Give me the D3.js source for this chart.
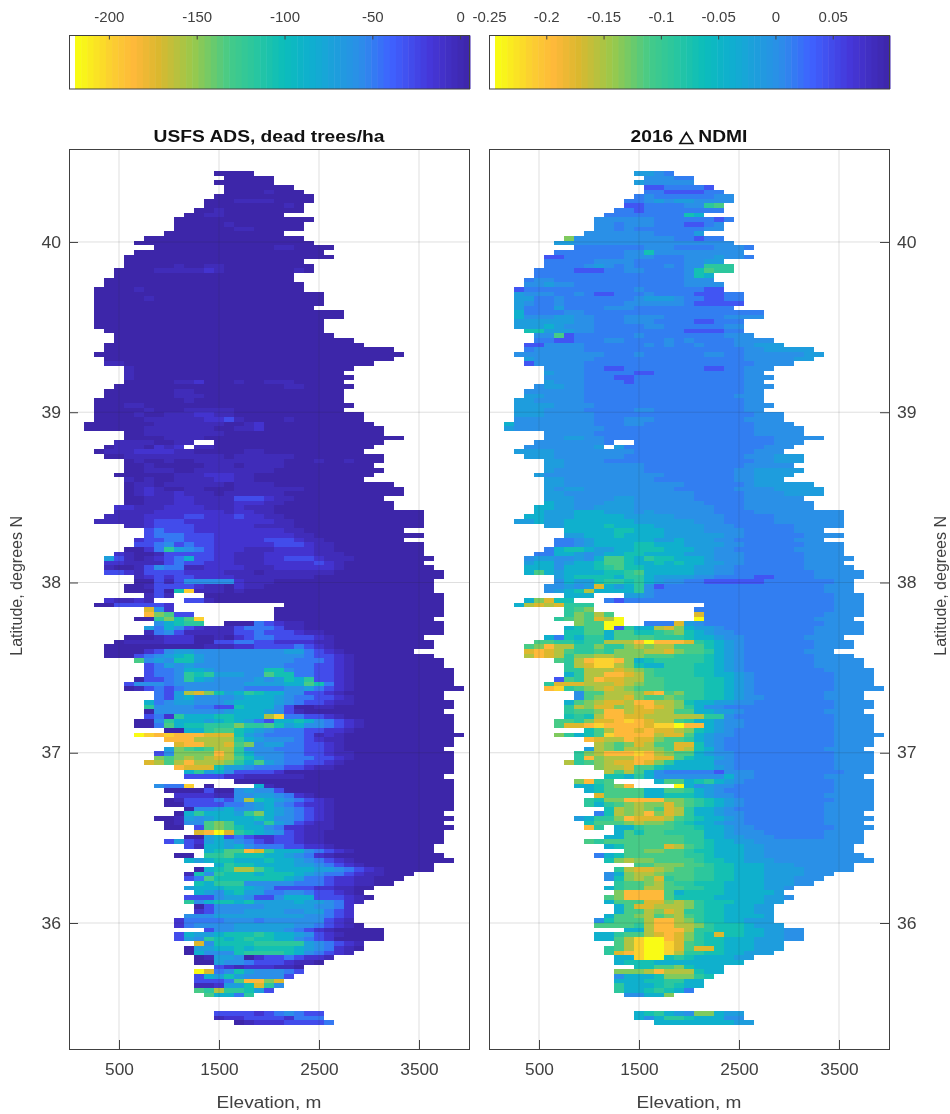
<!DOCTYPE html>
<html>
<head>
<meta charset="utf-8">
<title>USFS ADS and NDMI by elevation and latitude</title>
<script src="https://cdnjs.cloudflare.com/ajax/libs/d3/7.8.5/d3.min.js"></script>
<style>
  html, body { margin: 0; background: #fff; }
  svg { display: block; filter: blur(0.35px); }
  text { font-family: "Liberation Sans", Arial, sans-serif; fill: #404040; }
</style>
</head>
<body>
<svg id="chart"></svg>
<script>
// each row is one latitude band, north to south, one character per 100 m elevation cell
// "." = no data, other characters index into adsLevels / ndmiLevels
var levelKeys = "0123456789abcdefg";
var adsLevels = [5, -2.5, -12.6, -28, -48.6, -57.5, -71, -86.7, -104.7, -118, -132, -145, -159, -172, -185, -199, -217];
var ndmiLevels = [0.1, 0.083, 0.066, 0.0414, 0.0137, 0.0016, -0.0158, -0.0418, -0.0695, -0.09, -0.111, -0.132, -0.153, -0.173, -0.194, -0.215, -0.243];

var adsRows = [
".......... .....0000.",
".......... ......0000 0",
".......... .....00000 0",
".......... ......0000 000",
".......... ......0000 1000",
".......... .....00000 00000",
".......... ....000111 10000",
".......... ....000000 0010",
".......... ...0010000 0000",
".......... ..00110000 00",
".......... .000000000 00000",
".......... .000001000 0000",
".......... .000000110 0000",
".......... 0000000000 00",
"........00 0000000000 0000",
".......000 0000000000 00000",
".........0 0000000000 0110000",
".......000 0000000000 000000",
"......0000 0000000000 0000000",
"......0000 0000000000 0000",
"......0000 0100110000 00000",
".....00001 1111210000 00010",
".....00000 0000000000 000",
"....000000 0000000000 000",
"....000000 0000000000 0000",
"...0000100 0000000000 0000",
"...0000000 0000000000 000000",
"...0000010 0000000000 000000",
"...0000000 0000000000 000000",
"...0000000 0000000000 00000",
"...0000000 0000000000 00000000",
"...0000000 0000000000 00000000",
"...0000000 0000000000 000000",
"...0000000 0000000000 000000",
"....000000 0000000000 000000",
".....00000 0000000000 0000000",
".....00000 0000000000 000000000",
"....000000 0000000000 0000000000",
"....000000 0000000000 0000000000 000",
"...0000000 0000000000 0000000000 0000",
"....000000 0000000000 0000000000 000",
"....110000 0000000000 0000000000 0",
"......1000 0000000000 000000000",
"......1000 0000000000 00000000",
"......1000 0000000000 000000000",
"......0000 0112000100 11100000",
".....00000 0000000000 001100000",
"....000000 0110000000 00000000",
"....000000 0111000000 00000000",
"...0000000 0010000000 00000000",
"...0001100 0000000000 000000000",
"...0000010 0011111000 00000000",
"...0000100 1112211000 0000000000",
"...0000011 1111223100 0010000000",
"..00000001 1111110012 0000000000 0",
"..00000011 1111100112 0000000000 00",
"......0011 1111110000 0000000000 00",
"......0000 1111000000 0000000000 0000",
".....11110 011..00000 0000000000 00",
"....011102 12.1100000 0000000000 0",
"...0111222 2110000011 0000000000",
"....001111 1111110111 1110000000 00",
"......0100 1001111111 1100010010 00",
"......0010 0000111011 1100000000 0",
"......0011 1001111111 1000000000 00",
".....00000 0111222110 0000000000 0",
"......1010 0111122110 0000000000",
"......0110 1111110111 1000000000 000",
"......0121 0011000111 1111000000 0000",
"......0121 1211101111 1100000000 0000",
"......0011 1221111333 2110000000 00",
"......0011 1221111222 1100000000 000",
".....22111 2222111211 1000000000 000",
".....11112 2222221221 1000000000 000000",
"....111122 2233222322 1100000000 000000",
"...1111123 3322222222 2110000000 000000",
"......1123 3332222221 1110000000 000000",
"........34 3332222222 2211000000 0000",
"........34 4433322222 2221100000 000000",
".......233 4433322222 3332110000 0000",
".......334 5343322222 2333211000 000000",
"......0024 9654322211 1222211000 000000",
".....21001 3333322111 2222211100 000000",
"....631012 3473322111 2233321110 0000000",
"....221111 3433222111 2222232100 000000",
"....100135 4411222211 1222222100 0000000",
"....332133 3322221110 1111111000 00000000",
".......123 2332222111 1111100000 00000000",
".......003 1355555211 1000000000 0000000",
"......0013 3332110211 0000000000 0000000",
"......0003 08f1110100 0000000000 0000000",
"........13 1...000000 0000000000 00000000",
"....21121. ..33100000 0000000000 00000000",
"...0033333 2......... ..00000000 00000000",
"........d5 2......... .000000000 00000000",
"........eb a33....... .000000000 00000000",
".......009 b8af...... .000000000 0000000",
".........5 7899..0004 3211000000 00000000",
"........64 7532111344 4311000000 00000000",
"........14 5311111334 3332110000 00000000",
"......0001 2220010234 4333321000 000000",
".....01111 2220033443 3222211000 0000000",
"....000000 0000111223 3334321000 0000000",
"....000023 5665555555 5566432100 00000",
"....000345 6786555555 5555433210 0000000",
".......a56 5886555555 5554443210 00000000",
"........34 6565555555 5544433210 00000000",
"........34 4577655555 8854433210 000000000",
"........34 4598966655 a884433210 000000000",
".......033 4597655556 5687933210 000000000",
"......3555 4555555566 6677a84210 000000000",
"......0134 3455555544 4455643210 0000000000",
".........4 36cdb86798 7755332100 00000000",
".........4 3675555677 7654433210 00000000",
"........74 5665556777 7654332110 000000000",
"........95 5554433877 7530011000 000000000",
"........05 5555556777 6531000000 00000000",
"........34 2977788777 cf44332100 000000000",
".......005 9777678764 3778754321 000000000",
".......004 a788999b99 a867554321 000000000",
".......... 00779aa876 5444332210 000000000",
".......gfe feeeddd865 4444312100 0000000000",
".......... eeecccc976 5554321100 000000000",
".......... .deeccdab5 6644332100 000000000",
".......... 6ba9acc955 5444332100 00000000",
".........3 5bbbbec975 5544332110 000000000",
".........b abcbcdca86 5544433210 000000000",
"........dc acecccb97a 6544332100 000000000",
".......... .eddd86654 4433211000 000000000",
".......... ..79675333 3200000000 000000000",
".......... ..33332211 1111000000 00000000",
".......... .......000 0000000000 000000000",
".........5 44f.0....7 1000000000 000000000",
".......... 0000300565 5300000000 000000000",
".......... .222211556 6542100000 000000000",
".......... 01333435c8 7654321000 000000000",
".......... 0033334456 7543221000 000000000",
".......... ..05567556 7654321000 000000000",
".......... .07977769b 7654321000 00000000",
".........0 0165677778 7554321000 000000000",
".......... 0155aba776 9653211000 00000000",
".......... 00.3aba877 5422111000 000000000",
".......... ...degd987 6532110000 00000000",
".......... ..00673432 2332110000 00000000",
".......... 3632676543 2332110000 00000000",
".......... ..31776754 4433221000 0000000",
".......... ....78aaed 9777543210 0000000",
".......... .00.99a888 7765421000 00000000",
".......... ..76788777 8776543210 000000000",
".......... .....79887 7776654321 0000000",
".......... ...0789cca 8777766543 2100000",
".......... ..18598887 8887654432 11000",
".......... ..34a88888 8876443221 1000",
".......... ...8799955 5554443221 100",
".......... ..67778876 5333322110 0",
".......... ...7657866 4455433210",
".......... ..33356653 3577733321 0",
".......... ..95788786 6667665421",
".......... ...0355555 666665542",
".......... ...2355566 665566432",
".......... ..55566666 666655432",
".......... .244445554 555555321",
".......... .245555666 6665543210",
".......... ....355666 6654321000 00",
".......... .376678889 8776532100 00",
".......... .365987898 8775432000 00",
".......... ...d588889 9999654321",
".......... ..06677878 8887654210",
".......... ..07555899 998754321",
".......... ...0166502 3343221",
".......... ...0065543 332110",
".......... .....32122 2110",
".......... ...gd45865 5543",
".......... ...3768655 553",
".......... ...3334aee bd",
".......... ...112668d 95",
".......... ...a9c9986 3",
".......... ....a7749",
"",
"",
"",
".......... .....33332 345433",
".......... .....12233 332444",
".......... .......012 2233334"
];

var ndmiRows = [
".......... .....6654.",
".......... ......5554 4",
".......... .....65555 5",
".......... ......3344 443",
".......... ......4433 3344",
".......... .....45444 44455",
".......... ....445656 65555",
".......... ....334444 559a",
".......... ...4434444 4444",
".......... ..44444444 87",
".......... .555555444 44434",
".......... .554555444 3345",
".......... .554544444 4455",
".......... 5555555444 46",
"........b5 5555555554 4344",
".......665 5555555555 55555",
".........4 4444445554 4445554",
".......444 4444558555 555555",
"......3344 4444555444 5556554",
"......4444 4555544444 5566",
"......4444 5654544454 55999",
".....44443 3344554444 58a99",
".....44444 4444444444 587",
"....455444 4444444444 555",
"....556554 4444444444 5555",
"...3444444 4444454444 4433",
"...6555445 4334445444 433344",
"...6644544 4444456665 443344",
"...6544544 4444555555 433333",
"...6444644 4455544444 44444",
"...7444455 4444444444 44444444",
"...7555665 5444555544 44445555",
"...6666665 5444555444 433444",
"...6667655 5444445544 444455",
"....886665 5444444444 333344",
".....55a34 4444454444 4444555",
".....44334 4455444454 544445555",
"....335555 4444445454 4544455666",
"....455555 4444444444 4444445566 666",
"...5555555 5544454444 4455445555 5566",
"....655555 5444444444 4444445555 566",
"....355555 4444444444 4444444555 5",
"......5555 4433444444 443344555",
"......6555 4444433444 44444455",
"......5555 4443344444 444444555",
"......6555 4444344444 44444455",
".....56655 4444444444 444444555",
"....555555 4444444444 44444455",
"....665555 4444444444 44444555",
"...6655555 4444444444 44444455",
"...6666555 5444444444 444444555",
"...6665555 4444455444 44444455",
"...6665555 5444444444 4444444555",
"...5555555 5444555444 4444445555",
"..75555555 5444554444 4444444555 5",
"..65555555 5544444444 4444444555 55",
"......5555 5444444444 4444444555 55",
"......5566 5544444444 4444444445 5555",
".....55555 554..44444 4444444445 55",
"....555555 56.6444444 4444444455 5",
"...6666555 5555544444 4444444555",
"....666555 5555444444 4444445556 66",
"......6655 5544444444 4444444556 66",
"......6655 5555554444 4444445555 5",
"......6555 5555554444 4444455666 66",
".....65555 5555555544 4444455666 6",
"......6655 5555555444 4444455666",
"......6655 5555555555 4444445666 666",
"......6566 5555555554 4444455556 6666",
"......6655 5555555555 5444445555 6666",
"......6665 5556655555 5444445555 55",
"......7665 5566655555 5544445555 555",
".....77665 5666655555 5554445555 555",
".....76667 7766656555 5554444555 555555",
"....776667 7777666665 5555444445 555555",
"...6676677 7777766666 6555444445 555555",
"......6677 7787777666 6655544444 455555",
"........77 7778877766 6655554444 4555",
"........66 7778777766 6666554444 445555",
".......445 6777777667 6665544444 4555",
".......445 6777788777 6666554444 445555",
"......4788 7667788877 7665544444 455555",
".....44776 5677887777 6665554444 445555",
"....566556 57aa879887 7765554444 4455555",
"....677567 78aa877878 7766554444 445555",
"....777577 789a887777 7665544444 4455555",
"....7a7677 77889a7777 7665544444 44455555",
".......678 8887997666 6554444334 44455555",
".......576 6899897655 4433333344 4444455",
"......5565 6d76795344 4444444444 4444555",
"......5678 c777795444 4444444444 4444555",
"........77 7...665444 4444444444 44444555",
"....7bd88. ..43444444 4444444444 44444555",
"...7cdcd99 9......... ..44444444 44444555",
"........9a b......... .444444444 44444555",
"........9b aca....... .d44444444 44445555",
".......9ab adcg...... .g44444444 4445555",
".........b aagg..444d 6544444444 44445555",
"........78 aag3977cdb 7665444444 44455555",
"........88 aa7aa889ab 8765544444 44455555",
"......7487 997aaaa999 8776554444 445555",
".....aa998 99cccegeee d987654444 4445555",
"....abecc9 9b99bcbcca aa87654444 4445555",
"....dedca9 9a9bbbccdb aa97654444 44555",
"....cedc9b bccbbbaaa9 9987654444 4445555",
".......a9c effeb78999 9987654444 44455555",
"........9c dffcb87799 9887654444 44455555",
"........99 cccdcba999 9887654444 444455555",
"........79 cceedca999 9887765444 444445555",
".......3a9 ceddccaa99 9988765444 444445555",
"......9ddd cccdcbaa99 9988765444 444445555",
"......ef9a bcdcbaaa99 9988765444 4444455555",
".........5 aacccbdeab 9988765444 44445555",
".........5 abccdbaaba 9988765544 44445555",
"........7a bcddceeccb 8776655444 444445555",
"........9c bddbcdedcb 9755444444 444445555",
"........9a abeecddcca a776654444 44445555",
"........89 8ceeddcccc cc99544444 444445555",
".......aa9 bddefedcca 9776554444 444445555",
".......add efeeeedffg ee76554444 444445555",
".......... 8aceededdc b876544444 444445555",
".......b97 8afeeeecdd a765544444 4444455555",
".......... edcceddbaa 9765444444 444445555",
".......... .cbabdcaad d865444444 444445555",
".......... 6cbacccbad c875444444 44445555",
".........9 bceeefecba a765544444 444445555",
".........9 ebccceedda 8776544444 444445555",
"........c9 abcddedb97 7775544444 444445555",
".......... .bccdaa877 7776544444 444445555",
".......... ..caca7544 4443555444 444444555",
".......... ..88797555 5555755444 44445555",
".........b e9a....7aa 7897654444 444445555",
".........7 78abe....g 7565544444 444445555",
".......... 78aaaa77aa 9765444444 444445555",
".......... .daaaa7788 8765544444 444455555",
".......... 98bbeeeebb a987654444 444445555",
".......... 979abcbbdb a987654444 444455555",
".......... ..8cbcbadc 9776544444 444455555",
".......... .48cbcebdc 9776554444 44445555",
".........6 799bedddca 9877654444 444455555",
".......... 8aaabcbba9 8776554444 44445555",
".......... e9.779aaa9 9877655444 444445555",
".......... ...7a8aa99 9977655544 44445555",
".......... ..77aaaaaa 9977665554 44445555",
".......... a9aaaaaaaa 9987766555 55555555",
".......... ..78aaaadc a987776655 5555555",
".......... ....aabbaa 9887776655 5555555",
".......... .478aaaaaa 9987776655 55555555",
".......... ..8bcbbaaa a988776665 555555555",
".......... .....aabbb aa98877766 6555555",
".......... ...9cddcba a998877766 6655555",
".......... ..57bccbaa a998877766 66555",
".......... ..58bcbd9a a998877766 6555",
".......... ...9aabca9 9888777766 655",
".......... ..79aaccaa 9988777766 5",
".......... ...beeeea7 8888777776",
".......... ..abeeeea8 8887777766 5",
".......... ..7aaaddbc b988877766",
".......... ...7addccc b98877766",
".......... ...7aacbdc 998877766",
".......... ..7aabcabc a98877776",
".......... .58aaaceec b98877666",
".......... .aaaa9ceec cb98887666",
".......... ....77ceee c998887766 55",
".......... .779aacded b98d887766 55",
".......... .77acfgged b988777666 55",
".......... ...acfggfd a988777666",
".......... ..9acfggfd add8777666",
".......... ..9defggfc 998877666",
".......... ...77fgg89 8777766",
".......... ...7888777 777777",
".......... .....88aab 8777",
".......... ...bbbcecc c877",
".......... ...57778bb b98",
".......... ...7778899 77",
".......... ...9777898 77",
".......... ...9778987 4",
".......... ....5577b",
"",
"",
"",
".......... .....78976 5bb766",
".......... .....75799 877755",
".......... .......777 7777766"
];

var elevTicks = [500, 1500, 2500, 3500];
var latTicks = [36, 37, 38, 39, 40];
var adsBarTicks = [-200, -150, -100, -50, 0];
var ndmiBarTicks = [-0.25, -0.2, -0.15, -0.1, -0.05, 0, 0.05];

// colour map, 0 = dark end, 1 = yellow end
var cmapStops = [0, 0.1, 0.2, 0.28, 0.4, 0.47, 0.55, 0.61, 0.7, 0.79, 0.85, 0.91, 0.99, 1];
var cmapColors = ["#3d26a8", "#4536d8", "#3f62ff", "#2b8fe8", "#10aed0", "#0bbdbb", "#2cc79d", "#45cb88", "#98c94c", "#dcb82e", "#feb83a", "#fbd030", "#f9fb15", "#f9fb15"];
var cmap = d3.scaleLinear().domain(cmapStops).range(cmapColors);

var adsDomain = [-222.7, 5.6];
var ndmiDomain = [-0.25, 0.1];
var elevDomain = [0, 4000];
var latDomain = [35.26, 40.546];
var latTop = 40.417, latBottom = 35.401;
var cellElev = 100;

var width = 950, height = 1114;
var plotTop = 149, plotBottom = 1049, barTop = 35.5, barBottom = 89;
var panels = [
  { left: 69, rows: adsRows, levels: adsLevels, domain: adsDomain, ticks: adsBarTicks, title: "USFS ADS, dead trees/ha", side: "left" },
  { left: 489, rows: ndmiRows, levels: ndmiLevels, domain: ndmiDomain, ticks: ndmiBarTicks, title: "2016 \u25B3 NDMI", side: "right" }
];

var svg = d3.select("#chart").attr("width", width).attr("height", height);
var y = d3.scaleLinear().domain(latDomain).range([plotBottom, plotTop]);

// the reference is stretched a bit sideways, so horizontal text gets widened to match
function widen(sel, f) {
  sel.each(function () {
    var w = this.getComputedTextLength();
    d3.select(this).attr("textLength", w * f).attr("lengthAdjust", "spacingAndGlyphs");
  });
}

panels.forEach(function (p) {
  var x = d3.scaleLinear().domain(elevDomain).range([p.left, p.left + 400]);
  var barX = d3.scaleLinear().domain(p.domain).range([p.left, p.left + 401]);
  // one step of the bar is the white under-range, the rest is the colour map
  var whiteEnd = p.domain[0] + (p.domain[1] - p.domain[0]) * 0.015;
  var toMap = d3.scaleLinear().domain([p.domain[1], whiteEnd]).range([0, 1]).clamp(true);

  var latStep = (latTop - latBottom) / p.rows.length;
  var cells = [];
  p.rows.forEach(function (row, r) {
    row.replace(/ /g, "").split("").forEach(function (ch, k) {
      if (ch !== ".") cells.push({ r: r, k: k, value: p.levels[levelKeys.indexOf(ch)] });
    });
  });

  // colour bar
  var bands = d3.range(64).map(function (i) { return whiteEnd + (p.domain[1] - whiteEnd) * i / 64; });
  var bandW = (p.domain[1] - whiteEnd) / 64;
  var bar = svg.append("g");
  bar.selectAll("rect").data(bands).enter().append("rect")
    .attr("x", function (d) { return barX(d); })
    .attr("y", barTop)
    .attr("width", function (d) { return barX(d + bandW) - barX(d) + 0.5; })
    .attr("height", barBottom - barTop)
    .attr("fill", function (d) { return cmap(toMap(d + bandW / 2)); });
  bar.append("rect")
    .attr("x", p.left + 0.5).attr("y", barTop).attr("width", 400).attr("height", barBottom - barTop)
    .attr("fill", "none").attr("stroke", "#404040");
  var barAxis = bar.append("g").attr("transform", "translate(0," + barTop + ")")
    .call(d3.axisTop(barX).tickValues(p.ticks).tickFormat(function (d) { return String(d); }).tickSizeInner(-4).tickSizeOuter(0).tickPadding(14));
  barAxis.select(".domain").remove();
  barAxis.selectAll("line").attr("stroke", "#404040");
  barAxis.selectAll("text").style("font-size", "15px").attr("fill", "#404040");

  // cells
  svg.append("g").selectAll("rect").data(cells).enter().append("rect")
    .attr("x", function (d) { return x(d.k * cellElev - cellElev / 2); })
    .attr("y", function (d) { return y(latTop - d.r * latStep); })
    .attr("width", x(cellElev) - x(0))
    .attr("height", y(latTop - latStep) - y(latTop))
    .attr("fill", function (d) { return cmap(toMap(d.value)); })
    .attr("shape-rendering", "crispEdges");

  // grid sits over the cells
  var grid = svg.append("g").attr("stroke", "#262626").attr("stroke-opacity", 0.15);
  grid.selectAll(".gx").data(elevTicks).enter().append("line")
    .attr("x1", function (d) { return x(d); }).attr("x2", function (d) { return x(d); })
    .attr("y1", plotTop).attr("y2", plotBottom);
  grid.selectAll(".gy").data(latTicks).enter().append("line")
    .attr("x1", p.left).attr("x2", p.left + 400)
    .attr("y1", function (d) { return y(d); }).attr("y2", function (d) { return y(d); });

  svg.append("rect")
    .attr("x", p.left + 0.5).attr("y", plotTop + 0.5).attr("width", 400).attr("height", plotBottom - plotTop)
    .attr("fill", "none").attr("stroke", "#404040");

  var xAxis = svg.append("g").attr("transform", "translate(0," + plotBottom + ")")
    .call(d3.axisBottom(x).tickValues(elevTicks).tickFormat(d3.format("d")).tickSizeInner(-9).tickSizeOuter(0).tickPadding(15));
  xAxis.select(".domain").remove();
  xAxis.selectAll("line").attr("stroke", "#404040");
  xAxis.selectAll("text").style("font-size", "16px").attr("fill", "#404040").call(widen, 1.08);

  var yAxisX = p.side === "left" ? p.left : p.left + 400;
  var yMaker = p.side === "left" ? d3.axisLeft(y) : d3.axisRight(y);
  var yAxis = svg.append("g").attr("transform", "translate(" + yAxisX + ",0)")
    .call(yMaker.tickValues(latTicks).tickFormat(d3.format("d")).tickSizeInner(-9).tickSizeOuter(0).tickPadding(8));
  yAxis.select(".domain").remove();
  yAxis.selectAll("line").attr("stroke", "#404040");
  yAxis.selectAll("text").style("font-size", "16px").attr("fill", "#404040").call(widen, 1.1);

  svg.append("text")
    .attr("x", p.left + 200).attr("y", 142)
    .attr("text-anchor", "middle")
    .style("font-size", "16px").style("font-weight", "bold").style("fill", "#111")
    .text(p.title)
    .call(widen, 1.2);

  svg.append("text")
    .attr("x", p.left + 200).attr("y", 1108)
    .attr("text-anchor", "middle")
    .style("font-size", "16px")
    .text("Elevation, m")
    .call(widen, 1.19);

  var labelX = p.side === "left" ? 22 : 946;
  svg.append("text")
    .attr("transform", "translate(" + labelX + "," + y(37.98) + ") rotate(-90)")
    .attr("text-anchor", "middle")
    .style("font-size", "16px")
    .text("Latitude, degrees N");
});
</script>
</body>
</html>
